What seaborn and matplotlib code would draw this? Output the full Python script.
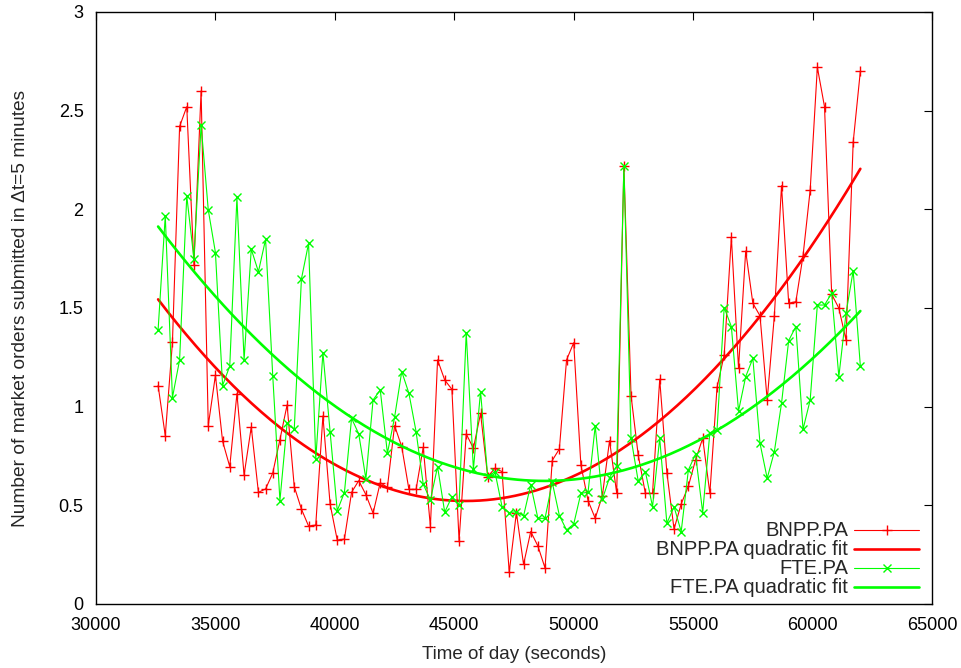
import numpy as np
import pandas as pd
import matplotlib
matplotlib.use("Agg")
import matplotlib.pyplot as plt
import seaborn as sns

# ---- data ----
t_start = 32600
t_step = 300
n_points = 99
time_s = [t_start + t_step * i for i in range(n_points)]

bnpp = [1.107, 0.853, 1.326, 2.42, 2.52, 1.72, 2.60, 0.904, 1.159, 0.825,
        0.696, 1.066, 0.654, 0.897, 0.566, 0.583, 0.664, 0.833, 1.009, 0.595,
        0.481, 0.395, 0.40, 0.953, 0.507, 0.324, 0.329, 0.566, 0.625, 0.554,
        0.46, 0.615, 0.591, 0.904, 0.797, 0.581, 0.581, 0.794, 0.392, 1.237,
        1.135, 1.088, 0.321, 0.862, 0.789, 0.966, 0.645, 0.688, 0.671, 0.161,
        0.463, 0.201, 0.367, 0.294, 0.182, 0.727, 0.786, 1.237, 1.324, 0.705,
        0.524, 0.434, 0.549, 0.828, 0.561, 2.22, 1.056, 0.755, 0.561, 0.561,
        1.139, 0.666, 0.38, 0.507, 0.597, 0.73, 0.84, 0.561, 1.098, 1.262,
        1.859, 1.195, 1.789, 1.524, 1.46, 1.034, 1.46, 2.12, 1.524, 1.532,
        1.764, 2.098, 2.72, 2.52, 1.57, 1.499, 1.338, 2.34, 2.70]

fte = [1.389, 1.968, 1.046, 1.237, 2.068, 1.749, 2.428, 1.997, 1.781, 1.107,
       1.206, 2.06, 1.237, 1.798, 1.684, 1.848, 1.156, 0.524, 0.916, 0.885,
       1.647, 1.828, 0.733, 1.274, 0.874, 0.473, 0.565, 0.941, 0.862, 0.634,
       1.034, 1.085, 0.764, 0.946, 1.178, 1.068, 0.874, 0.607, 0.527, 0.696,
       0.465, 0.544, 0.502, 1.375, 0.683, 1.076, 0.645, 0.671, 0.493, 0.463,
       0.468, 0.446, 0.603, 0.434, 0.434, 0.617, 0.448, 0.375, 0.405, 0.561,
       0.566, 0.902, 0.531, 0.641, 0.70, 2.22, 0.84, 0.623, 0.671, 0.493,
       0.84, 0.409, 0.493, 0.367, 0.679, 0.759, 0.463, 0.868, 0.882, 1.502,
       1.406, 0.978, 1.152, 1.245, 0.814, 0.637, 0.772, 1.017, 1.335, 1.406,
       0.885, 1.034, 1.515, 1.515, 1.575, 1.152, 1.473, 1.689, 1.206]

series_names = ["BNPP.PA", "BNPP.PA quadratic fit", "FTE.PA", "FTE.PA quadratic fit"]
x_ticks = [30000, 35000, 40000, 45000, 50000, 55000, 60000, 65000]
y_ticks = [0, 0.5, 1, 1.5, 2, 2.5, 3]
y_tick_labels = ["0", "0.5", "1", "1.5", "2", "2.5", "3"]
x_label = "Time of day (seconds)"
y_label = "Number of market orders submitted in \u0394t=5 minutes"

RED = "#ff0000"
GREEN = "#00ff00"

# ---- style ----
sns.set_style("white")
plt.rcParams["font.family"] = ["Liberation Sans", "DejaVu Sans"]

fig = plt.figure(figsize=(9.61, 6.68), dpi=100)
ax = fig.add_axes([96 / 961, 1 - 604 / 668, (932 - 96) / 961, (604 - 12) / 668])

df = pd.DataFrame({"t": time_s, "bnpp": bnpp, "fte": fte})

# quadratic fits computed from the data
t_fine = np.linspace(time_s[0], time_s[-1], 300)
fit_b = np.polyval(np.polyfit(df["t"], df["bnpp"], 2), t_fine)
fit_f = np.polyval(np.polyfit(df["t"], df["fte"], 2), t_fine)

sns.lineplot(data=df, x="t", y="bnpp", ax=ax, color=RED, lw=0.8,
             marker="+", markersize=7, markeredgewidth=1.0, markeredgecolor=RED,
             estimator=None, sort=False)
sns.lineplot(x=t_fine, y=fit_b, ax=ax, color=RED, lw=1.9, estimator=None, sort=False)
sns.lineplot(data=df, x="t", y="fte", ax=ax, color=GREEN, lw=0.8,
             marker="x", markersize=6, markeredgewidth=1.0, markeredgecolor=GREEN,
             estimator=None, sort=False)
sns.lineplot(x=t_fine, y=fit_f, ax=ax, color=GREEN, lw=1.9, estimator=None, sort=False)

ax.set_xlim(x_ticks[0], x_ticks[-1])
ax.set_ylim(y_ticks[0], y_ticks[-1])
ax.set_xticks(x_ticks)
ax.set_xticklabels([str(v) for v in x_ticks])
ax.set_yticks(y_ticks)
ax.set_yticklabels(y_tick_labels)
ax.tick_params(direction="in", length=6, width=0.8, top=True, right=True,
               labelsize=13, colors="black")
ax.tick_params(axis="x", pad=9)
ax.tick_params(axis="y", pad=9)
for s in ax.spines.values():
    s.set_visible(True)
    s.set_color("black")
    s.set_linewidth(1.0)
ax.set_xlabel(x_label, fontsize=13.5, labelpad=9)
ax.set_ylabel(y_label, fontsize=13.8, labelpad=21)

# gnuplot-style key: right-aligned text followed by the sample
styles = [
    dict(color=RED, lw=0.8, marker="+", ms=7, mew=1.0),
    dict(color=RED, lw=1.9, marker=None),
    dict(color=GREEN, lw=0.8, marker="x", ms=6, mew=1.0),
    dict(color=GREEN, lw=1.9, marker=None),
]
row_y = [0.125, 0.0929, 0.0608, 0.0287]
for name, st, yy in zip(series_names, styles, row_y):
    ax.text(0.8995, yy, name, transform=ax.transAxes, ha="right", va="center",
            fontsize=14.5)
    ax.plot([0.907, 0.946, 0.985], [yy, yy, yy], transform=ax.transAxes,
            color=st["color"], lw=st["lw"], marker=st["marker"],
            ms=st.get("ms", 0), mew=st.get("mew", 0), markevery=[1],
            clip_on=False)

fig.savefig("out.png", dpi=100)
